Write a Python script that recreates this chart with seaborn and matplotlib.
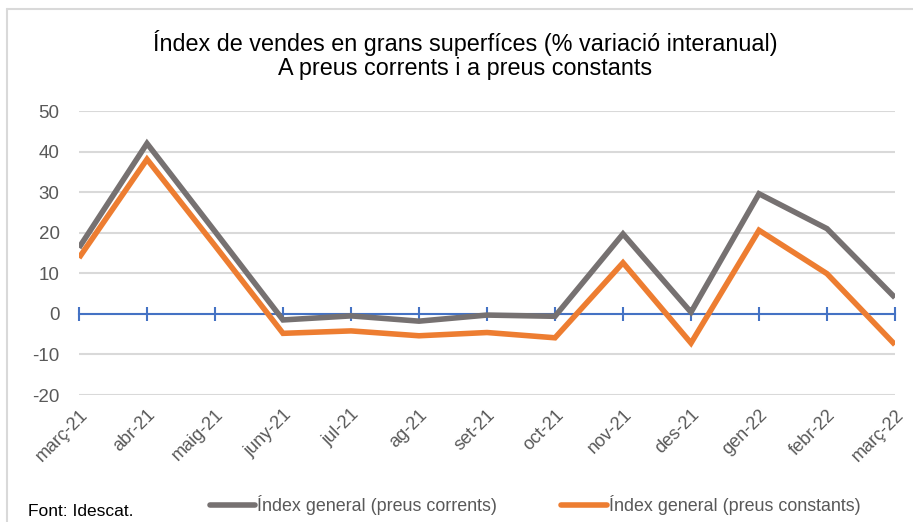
import matplotlib
matplotlib.use("Agg")
import matplotlib.pyplot as plt
import seaborn as sns
import pandas as pd
from matplotlib.lines import Line2D

months = ["març-21", "abr-21", "maig-21", "juny-21", "jul-21", "ag-21", "set-21",
          "oct-21", "nov-21", "des-21", "gen-22", "febr-22", "març-22"]
corrents = [16.3, 42.0, 20.3, -1.5, -0.5, -1.8, -0.3, -0.6, 19.7, 0.4, 29.6, 21.0, 4.0]
constants = [13.8, 38.1, 16.8, -4.8, -4.2, -5.4, -4.6, -5.9, 12.6, -7.2, 20.6, 9.9, -7.6]
series_names = ["Índex general (preus corrents)", "Índex general (preus constants)"]
title = "Índex de vendes en grans superfíces (% variació interanual)\nA preus corrents i a preus constants"
source = "Font: Idescat."

sns.set_theme(style="white")
plt.rcParams['font.family'] = ['Liberation Sans', 'DejaVu Sans']
plt.rcParams['axes.unicode_minus'] = False

df = pd.DataFrame({
    "pos": list(range(len(months))) * 2,
    "value": corrents + constants,
    "serie": [series_names[0]] * len(months) + [series_names[1]] * len(months),
})

GRAY = "#767171"
ORANGE = "#ED7D31"
BLUE = "#4472C4"
TICKC = "#595959"

fig = plt.figure(figsize=(9.13, 5.22), dpi=100)
ax = fig.add_axes([79/913, 1-395/522, (895-79)/913, (395-111)/522])

sns.lineplot(data=df, x="pos", y="value", hue="serie",
             palette={series_names[0]: GRAY, series_names[1]: ORANGE},
             linewidth=4, ax=ax, legend=False, sort=False,
             solid_joinstyle="miter", solid_capstyle="butt")

ax.set_xlim(0, len(months) - 1)
ax.set_ylim(-20, 50)
ax.set_yticks(range(-20, 51, 10))
ax.yaxis.grid(True, color="#D9D9D9", linewidth=1.5)
ax.set_axisbelow(True)
for s in ["top", "right", "left"]:
    ax.spines[s].set_visible(False)
ax.spines["bottom"].set_position(("data", 0))
ax.spines["bottom"].set_color(BLUE)
ax.spines["bottom"].set_linewidth(1.5)
ax.spines["bottom"].set_zorder(1)
ax.set_xticks(range(len(months)))
ax.tick_params(axis="x", direction="inout", length=10, width=1.5, color=BLUE,
               labelbottom=False, bottom=True)
ax.tick_params(axis="y", length=0, pad=14, labelsize=13.5, labelcolor=TICKC)
ax.set_xlabel("")
ax.set_ylabel("")
for line in ax.lines:
    line.set_zorder(3)

sec = ax.secondary_xaxis(0.0)
sec.set_xticks(range(len(months)), months)
sec.spines["bottom"].set_visible(False)
sec.tick_params(axis="x", length=0, pad=8, labelsize=13, labelcolor=TICKC)
for lab in sec.get_xticklabels():
    lab.set_rotation(45)
    lab.set_ha("right")
    lab.set_rotation_mode("anchor")

fig.text(465/913, 1-55/522, title, ha="center", va="center", fontsize=16.8,
         color="black", linespacing=1.1)

handles = [Line2D([], [], color=GRAY, lw=4), Line2D([], [], color=ORANGE, lw=4)]
fig.legend(handles, series_names, loc="center", bbox_to_anchor=(535/913, 1-505/522),
           ncol=2, frameon=False, fontsize=12.9, handlelength=2.55, handletextpad=0.1,
           columnspacing=3.6, labelcolor=TICKC, borderpad=0, borderaxespad=0)
fig.text(28/913, 1-512/522, source, ha="left", va="center", fontsize=12.5, color="black")

# chart border
fig.add_artist(Line2D([7/913, 1], [1-9/522, 1-9/522], transform=fig.transFigure,
                      color="#D9D9D9", lw=1.5))
fig.add_artist(Line2D([7/913, 7/913], [0, 1-9/522], transform=fig.transFigure,
                      color="#D9D9D9", lw=1.5))

fig.savefig("out.png", dpi=100)
